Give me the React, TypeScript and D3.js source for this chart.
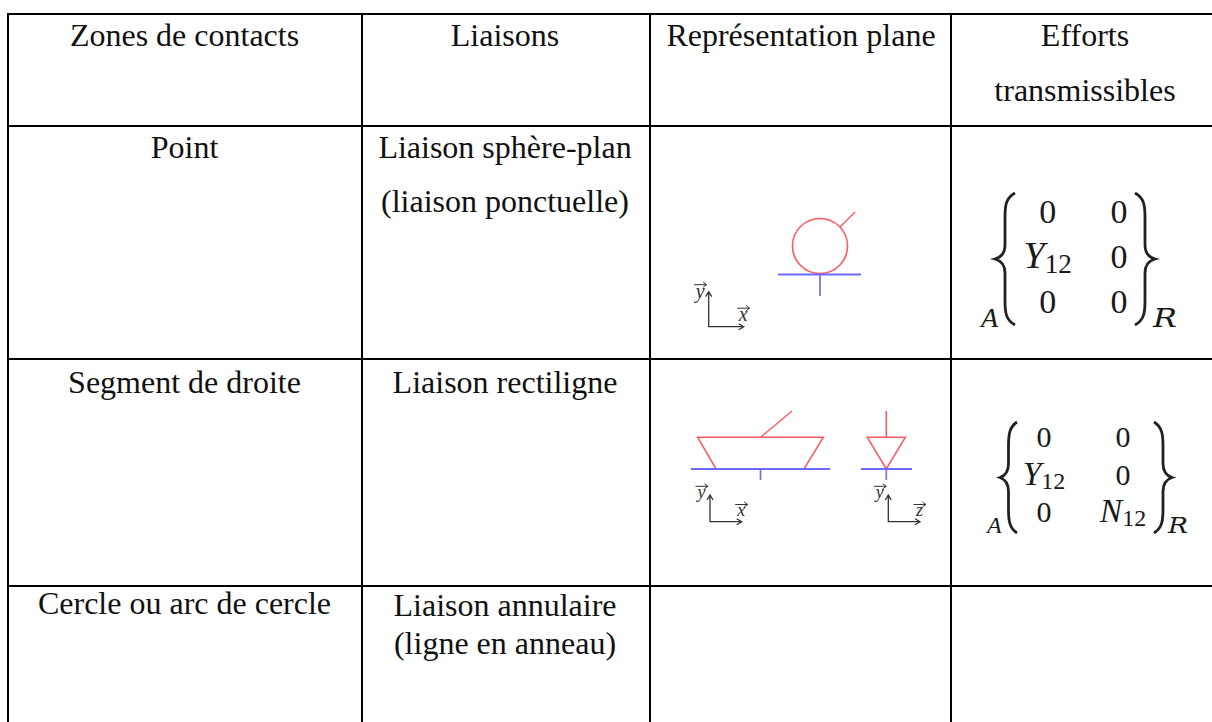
import React from "react";
import * as d3 from "d3";

const headers = ["Zones de contacts", "Liaisons", "Représentation plane"];
const effortsHeader = ["Efforts", "transmissibles"];
const zones = ["Point", "Segment de droite", "Cercle ou arc de cercle"];
const liaisons = [
  ["Liaison sphère-plan", "(liaison ponctuelle)"],
  ["Liaison rectiligne"],
  ["Liaison annulaire", "(ligne en anneau)"],
];
const matrixA = [["0", "0"], ["Y", "0"], ["0", "0"]];
const matrixB = [["0", "0"], ["Y", "0"], ["0", "N"]];

const colEdges = [8, 362, 650, 951];
const rowEdges = [14, 126, 359, 586];
const colCenters = [184.5, 505, 801, 1085];
const serif = "'Liberation Serif', serif";
const RED = "#ff5a62";
const BLUE = "#6a6aff";
const INK = "#333";

function poly(pts: [number, number][], closed = false) {
  const l = d3.line();
  return (l(pts) || "") + (closed ? "Z" : "");
}

function Axes({ x, y, w, h, hName, vName, fs, vOff }: any) {
  const s = 4;
  const d = [
    poly([[x, y - h], [x, y], [x + w, y]]),
    poly([[x - s + 1, y - h + s + 1], [x, y - h], [x + s - 1, y - h + s + 1]]),
    poly([[x + w - s - 1, y - s + 1], [x + w, y], [x + w - s - 1, y + s - 1]]),
  ].join("");
  const label = (lx: number, ly: number, t: string) => (
    <g>
      <text x={lx} y={ly} fontFamily={serif} fontStyle="italic" fontSize={fs} fill="#333" textAnchor="middle">{t}</text>
      <path d={poly([[lx - 6, ly - fs * 0.65], [lx + 6, ly - fs * 0.65]]) + poly([[lx + 3, ly - fs * 0.65 - 2.5], [lx + 6.5, ly - fs * 0.65], [lx + 3, ly - fs * 0.65 + 2.5]])} stroke="#333" fill="none" strokeWidth={1} />
    </g>
  );
  return (
    <g>
      <path d={d} fill="none" stroke={INK} strokeWidth={1.3} />
      {label(x - 8.5, y - vOff, vName)}
      {label(x + w - 0.5, y - 5.5, hName)}
    </g>
  );
}

function leftBrace(x0: number, x1: number, top: number, bot: number) {
  const mid = (top + bot) / 2;
  const xm = (x0 + x1) / 2;
  return `M${x1},${top} C${xm + 1},${top + 5} ${xm},${top + 12} ${xm},${top + 24} L${xm},${mid - 14} C${xm},${mid - 6} ${xm - 3},${mid - 2} ${x0},${mid} C${xm - 3},${mid + 2} ${xm},${mid + 6} ${xm},${mid + 14} L${xm},${bot - 24} C${xm},${bot - 12} ${xm + 1},${bot - 5} ${x1},${bot}`;
}

function Matrix({ data, box, cols, rows, fs, sub, A, R }: any) {
  const [x0, x1, x2, x3, top, bot] = box;
  const mid = x2 + x3;
  return (
    <g fontFamily={serif} fill="#1a1a1a">
      <path d={leftBrace(x0, x1, top, bot)} fill="none" stroke="#222" strokeWidth={2.8} />
      <g transform={`translate(${mid},0) scale(-1,1)`}>
        <path d={leftBrace(x2, x3, top, bot)} fill="none" stroke="#222" strokeWidth={2.8} />
      </g>
      {data.map((row: string[], i: number) =>
        row.map((c: string, j: number) => {
          const isSym = c !== "0";
          return (
            <text key={`${i}-${j}`} x={cols[j]} y={rows[i]} textAnchor="middle" fontSize={fs}>
              <tspan fontStyle={isSym ? "italic" : "normal"} fontSize={isSym ? fs * 1.12 : fs}>{c}</tspan>
              {isSym && <tspan fontSize={fs * 0.8} dy={fs * 0.14}>12</tspan>}
            </text>
          );
        })
      )}
      <text x={A[0]} y={A[1]} fontStyle="italic" fontSize={sub}>A</text>
      <text x={R[0]} y={R[1]} fontStyle="italic" fontSize={sub * 0.92} fontFamily="'DejaVu Serif', serif" textLength={R[2]} lengthAdjust="spacingAndGlyphs">R</text>
    </g>
  );
}

export default function App() {
  const T = (x: number, y: number, t: string) => (
    <text key={t} x={x} y={y} textAnchor="middle" fontFamily={serif} fontSize={32} fill="#111">{t}</text>
  );
  const zoneY = [158, 393, 614];
  const liaisonY = [[158, 212], [393], [616, 654]];
  return (
    <svg width={1212} height={722} style={{ position: "absolute", left: 0, top: 0, background: "#fff" }}>
      <rect width={1212} height={722} fill="#fff" />
      {rowEdges.map((y) => (
        <line key={y} x1={colEdges[0] - 1} x2={1212} y1={y} y2={y} stroke="#000" strokeWidth={2} />
      ))}
      {colEdges.map((x) => (
        <line key={x} x1={x} x2={x} y1={rowEdges[0]} y2={722} stroke="#000" strokeWidth={2} />
      ))}
      {headers.map((h, i) => T(colCenters[i], 46, h))}
      {T(colCenters[3], 46, effortsHeader[0])}
      {T(colCenters[3], 101, effortsHeader[1])}
      {zones.map((z, i) => T(colCenters[0], zoneY[i], z))}
      {liaisons.map((ls, i) => ls.map((l, j) => T(colCenters[1], liaisonY[i][j], l)))}

      <circle cx={820} cy={246} r={27.5} fill="none" stroke={RED} strokeWidth={1.6} />
      <path d={poly([[840, 227], [855, 212]])} stroke={RED} strokeWidth={1.4} fill="none" />
      <path d={poly([[778, 274.5], [861, 274.5]])} stroke={BLUE} strokeWidth={2.2} fill="none" />
      <path d={poly([[820, 275], [820, 296]])} stroke={BLUE} strokeWidth={1.7} fill="none" />
      <Axes x={708.7} y={326.7} w={35} h={35} hName="x" vName="y" fs={20} vOff={29} />

      <path d={poly([[697.7, 437.3], [823.3, 437.3], [804, 469], [716, 469]], true)} stroke={RED} strokeWidth={1.6} fill="none" />
      <path d={poly([[761, 437], [792, 411]])} stroke={RED} strokeWidth={1.4} fill="none" />
      <path d={poly([[691, 469], [830, 469]])} stroke={BLUE} strokeWidth={1.9} fill="none" />
      <path d={poly([[760.5, 469], [760.5, 480]])} stroke={BLUE} strokeWidth={1.6} fill="none" />
      <path d={poly([[867.3, 437.3], [905.3, 437.3], [886.3, 469]], true)} stroke={RED} strokeWidth={1.6} fill="none" />
      <path d={poly([[886.3, 411], [886.3, 437]])} stroke={RED} strokeWidth={1.6} fill="none" />
      <path d={poly([[861, 469], [912, 469]])} stroke={BLUE} strokeWidth={1.9} fill="none" />
      <path d={poly([[886.3, 469], [886.3, 480]])} stroke={BLUE} strokeWidth={1.6} fill="none" />
      <Axes x={710} y={521.7} w={31.7} h={26.7} hName="x" vName="y" fs={18} vOff={23.7} />
      <Axes x={888.3} y={521.7} w={31.7} h={26.7} hName="z" vName="y" fs={18} vOff={23.7} />

      <Matrix data={matrixA} box={[995, 1015, 1135, 1155, 193, 325]} cols={[1047.7, 1119]} rows={[223, 268, 313]} fs={34} sub={28} A={[981, 327]} R={[1153, 327, 24]} />
      <Matrix data={matrixB} box={[1000, 1017, 1154, 1172, 422, 533]} cols={[1044, 1123]} rows={[447, 485, 522]} fs={30} sub={24} A={[987, 533]} R={[1168, 533, 20]} />
    </svg>
  );
}
